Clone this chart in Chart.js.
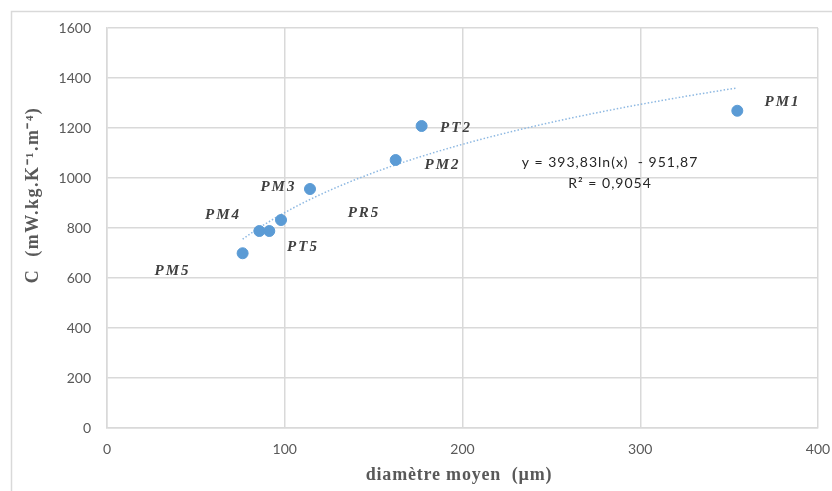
<!DOCTYPE html>
<html>
<head>
<meta charset="utf-8">
<script src="https://cdn.jsdelivr.net/npm/chart.js@4.4.1/dist/chart.umd.min.js"></script>
<style>
  html, body { margin: 0; padding: 0; background: #fff; }
  #wrap { width: 832px; height: 491px; }
</style>
</head>
<body>
<div id="wrap"><canvas id="chart" width="832" height="491"></canvas></div>
<script>
// Mean diameter (µm) and C (mW.kg.K-1.m-4)
const diameters = [76.3, 85.7, 91.3, 97.9, 114.2, 162.4, 177.0, 354.6];
const cValues = [699, 788, 788, 832, 956, 1072, 1208, 1269];

// Sample labels, as placed on the original (anchored in data units)
const labelTexts = ['PM1', 'PT2', 'PM2', 'PM3', 'PM4', 'PR5', 'PT5', 'PM5'];
const labelX = [379.5, 195.8, 188.2, 95.9, 64.7, 144, 109.7, 36.3];
const labelY = [1305, 1200, 1052, 965, 852, 860, 724, 628];

// Logarithmic trendline shown on the chart
const trendA = 393.83;
const trendB = -951.87;
const trendText = ['y = 393,83ln(x)  - 951,87', 'R\u00b2 = 0,9054'];
const trendTextAt = [283, 1064];

const xTicks = [0, 100, 200, 300, 400];
const yTicks = [0, 200, 400, 600, 800, 1000, 1200, 1400, 1600];

const points = diameters.map((d, i) => ({ x: d, y: cValues[i] }));

// trend curve over the data range
const xMin = Math.min(...diameters), xMax = Math.max(...diameters);
const trendPts = [];
for (let i = 0; i <= 60; i++) {
    const x = xMin + (xMax - xMin) * i / 60;
    trendPts.push({ x: x, y: trendA * Math.log(x) + trendB });
}

const gridColor = '#d9d9d9';

const decorations = {
    id: 'decorations',
    afterDraw(chart) {
        const ctx = chart.ctx;
        const xs = chart.scales.x, ys = chart.scales.y;
        ctx.save();
        // outer frame (left and top edges visible)
        ctx.strokeStyle = '#d9d9d9';
        ctx.lineWidth = 1.5;
        ctx.beginPath();
        ctx.moveTo(11.5, 491);
        ctx.lineTo(11.5, 11.5);
        ctx.lineTo(832, 11.5);
        ctx.stroke();

        // point labels
        ctx.fillStyle = '#404040';
        ctx.font = 'italic bold 15px "Liberation Serif", serif';
        ctx.textAlign = 'center';
        ctx.textBaseline = 'middle';
        ctx.letterSpacing = '2px';
        labelTexts.forEach((t, i) => {
            ctx.fillText(t, xs.getPixelForValue(labelX[i]) + 1, ys.getPixelForValue(labelY[i]));
        });

        // trendline equation
        ctx.fillStyle = '#262626';
        ctx.font = '14px Lato, sans-serif';
        ctx.letterSpacing = '1px';
        const ex = xs.getPixelForValue(trendTextAt[0]);
        const ey = ys.getPixelForValue(trendTextAt[1]);
        ctx.fillText(trendText[0], ex, ey);
        ctx.fillText(trendText[1], ex, ey + 21);

        // axis titles
        ctx.fillStyle = '#595959';
        ctx.font = 'bold 18px "Liberation Serif", serif';
        ctx.letterSpacing = '0.8px';
        ctx.fillText('diam\u00e8tre moyen  (\u00b5m)', 459, 475);
        ctx.translate(33, 195);
        ctx.rotate(-Math.PI / 2);
        ctx.letterSpacing = '1.5px';
        ctx.fillText('C  (mW.kg.K\u207b\u00b9.m\u207b\u2074)', 0, 0);
        ctx.restore();
    }
};

const tickFont = { family: 'Lato', size: 14 };

new Chart(document.getElementById('chart'), {
    type: 'scatter',
    data: {
        datasets: [{
            label: 'C',
            data: points,
            backgroundColor: '#5b9bd5',
            borderColor: '#5b9bd5',
            pointRadius: 5.5,
            pointHoverRadius: 5.5,
            order: 1
        }, {
            label: 'Log trend',
            type: 'line',
            data: trendPts,
            borderColor: '#8db8e2',
            borderWidth: 1.5,
            borderDash: [1.5, 2],
            pointRadius: 0,
            fill: false,
            tension: 0,
            order: 2
        }]
    },
    options: {
        responsive: false,
        animation: false,
        layout: { padding: { left: 12, top: 28, right: 14, bottom: 0 } },
        plugins: {
            legend: { display: false },
            tooltip: { enabled: false }
        },
        scales: {
            x: {
                type: 'linear',
                min: 0,
                max: 400,
                afterBuildTicks: s => { s.ticks = xTicks.map(v => ({ value: v })); },
                afterFit: s => { s.height = 63; s.paddingLeft = 0; s.paddingRight = 0; },
                grid: { color: gridColor, lineWidth: 1.5, drawTicks: false },
                border: { color: gridColor, width: 1.5 },
                ticks: { color: '#595959', padding: 13, font: tickFont, callback: v => String(v) }
            },
            y: {
                min: 0,
                max: 1600,
                afterBuildTicks: s => { s.ticks = yTicks.map(v => ({ value: v })); },
                afterFit: s => { s.width = 95; s.paddingTop = 0; s.paddingBottom = 0; },
                grid: { color: gridColor, lineWidth: 1.5, drawTicks: false },
                border: { color: gridColor, width: 1.5 },
                ticks: { color: '#595959', padding: 16, font: tickFont, callback: v => String(v) }
            }
        }
    },
    plugins: [decorations]
});
</script>
</body>
</html>
